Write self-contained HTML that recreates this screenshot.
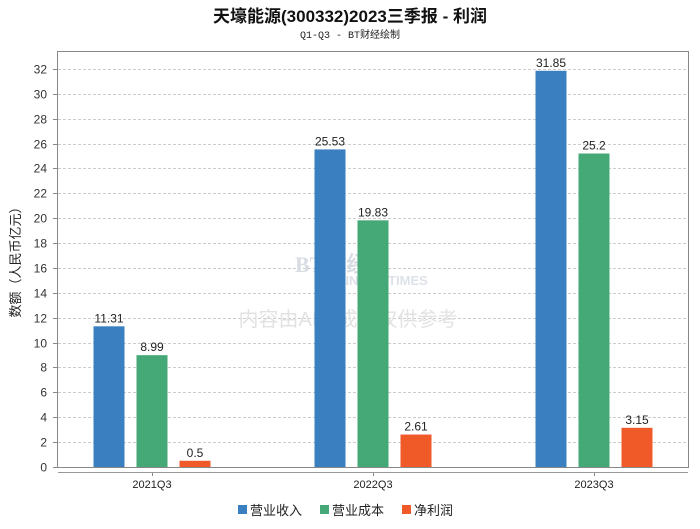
<!DOCTYPE html>
<html><head><meta charset="utf-8"><style>
body{margin:0;background:#fff;font-family:"Liberation Sans","Noto Sans CJK SC",sans-serif}
</style></head><body>
<svg width="700" height="524" xmlns="http://www.w3.org/2000/svg" font-family="'Liberation Sans','Noto Sans CJK SC',sans-serif">
<text x="350" y="22" text-anchor="middle" font-size="17" font-weight="bold" fill="#111">天壕能源(300332)2023三季报 - 利润</text>
<text x="350" y="38" text-anchor="middle" font-size="10" fill="#222" font-family="'Liberation Mono',monospace">Q1-Q3 - BT财经绘制</text>
<g id="grid"></g>
<text x="295" y="272" font-size="22" fill="#d8dde4" font-family="'Liberation Serif',serif" font-weight="bold">BT财经</text>
<text x="318" y="285" font-size="13" fill="#dde2e8" font-weight="bold">BUSINESS TIMES</text>
<text x="348" y="326" text-anchor="middle" font-size="20" fill="#e2e2e2">内容由AI生成，仅供参考</text>
<g id="bars"></g>
<rect x="57.5" y="51.5" width="631" height="416" fill="none" stroke="#888"/>
<line x1="58" y1="472.5" x2="688" y2="472.5" stroke="#999"/>
<text transform="translate(20,259) rotate(-90)" text-anchor="middle" font-size="13" fill="#222">数额（人民币亿元）</text>
<g id="legend"></g>
</svg>
<script>
const categories=["2021Q3","2022Q3","2023Q3"];
const seriesNames=["营业收入","营业成本","净利润"];
const colors=["#3a80c0","#45a877","#f05a28"];
const revenue=[11.31,25.53,31.85];
const cost=[8.99,19.83,25.2];
const profit=[0.5,2.61,3.15];
const yTicks=[0,2,4,6,8,10,12,14,16,18,20,22,24,26,28,30,32];
const NS="http://www.w3.org/2000/svg";
const y0=467,ppu=12.44;
const yS=v=>y0-v*ppu;
const xC=i=>152+i*221;
function mk(t,a,p){const e=document.createElementNS(NS,t);for(const k in a)e.setAttribute(k,a[k]);p.appendChild(e);return e;}
const grid=document.getElementById('grid');
yTicks.forEach(v=>{
 const y=Math.round(yS(v))+0.5;
 if(v>0){const l=mk('line',{x1:58,y1:y,x2:688,y2:y,stroke:'#ccc','stroke-dasharray':'3,2'},grid);
 
 }
 const tk=mk('line',{x1:53,y1:y,x2:58,y2:y,stroke:'#888'},grid);
 
 
 const t=mk('text',{x:47,y:y+4,'text-anchor':'end','font-size':12,fill:'#333'},grid);
 t.textContent=v;
 
 
});
const bars=document.getElementById('bars');
const series=[revenue,cost,profit];
categories.forEach((c,i)=>{
 series.forEach((s,j)=>{
  const cx=xC(i)+(j-1)*43;
  const r=mk('rect',{x:cx-15.5,y:yS(s[i]),width:31,height:s[i]*ppu,fill:colors[j]},bars);
  
  
  const t=mk('text',{x:cx,y:yS(s[i])-4,'text-anchor':'middle','font-size':12,fill:'#222'},bars);
  t.textContent=s[i];
  
  
 });
 const tk=mk('line',{x1:xC(i)+0.5,y1:472,x2:xC(i)+0.5,y2:476,stroke:'#888'},bars);
 
 
 const t=mk('text',{x:xC(i),y:488,'text-anchor':'middle','font-size':11,fill:'#222'},bars);
 t.textContent=c;
 
 
});
const lg=document.getElementById('legend');
seriesNames.forEach((n,j)=>{
 const x=238+j*82;
 const r=mk('rect',{x:x,y:505,width:9,height:9,fill:colors[j]},lg);
 
 
 const t=mk('text',{x:x+12,y:515,'font-size':13,fill:'#222'},lg);
 t.textContent=n;
 
 
});
</script>
</body></html>
